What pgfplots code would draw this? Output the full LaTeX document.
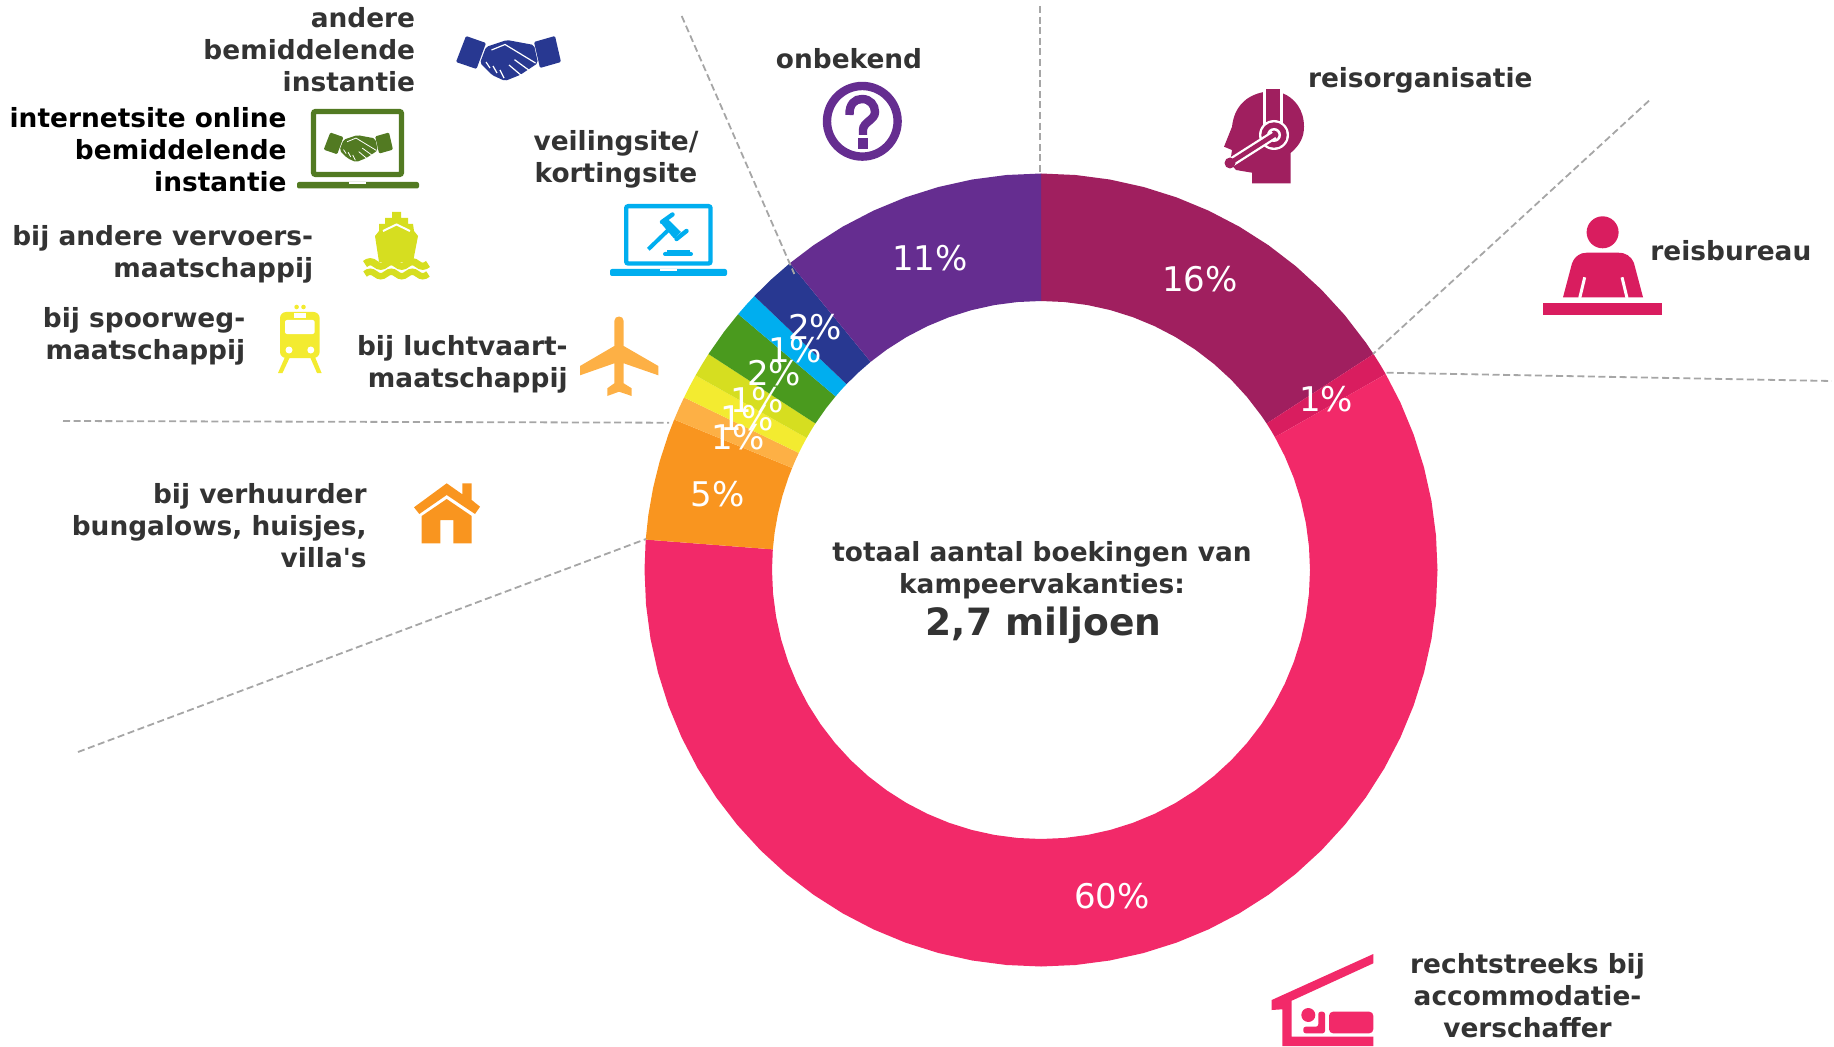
\documentclass[border=0pt]{standalone}
\usepackage{pgfplots}
\pgfplotsset{compat=1.18}
\usepackage{fontspec}
\setmainfont{DejaVu Sans}
\newfontfamily\plainfam{DejaVu Sans}
\definecolor{cplum}{HTML}{A01F5F}
\definecolor{ccrim}{HTML}{D91D5F}
\definecolor{cpink}{HTML}{F22969}
\definecolor{corange}{HTML}{F9951F}
\definecolor{clo}{HTML}{FDB045}
\definecolor{cyel}{HTML}{F3EB30}
\definecolor{clime}{HTML}{D6DE20}
\definecolor{cgreen}{HTML}{4A9A1E}
\definecolor{ccyan}{HTML}{00AEEF}
\definecolor{cdblue}{HTML}{283891}
\definecolor{cpurple}{HTML}{652D90}
\definecolor{cdgreen}{HTML}{527A22}
\definecolor{ctext}{HTML}{333333}
\definecolor{cdash}{HTML}{A6A6A6}
\newcommand\lab{\fontsize{13.2}{16}\selectfont\bfseries}
\newcommand\pct{\fontsize{17}{18}\selectfont\color{white}}
\newcommand\handshake[4]{%
 \begin{scope}[shift={(#1,#2)},scale=#3]
  \fill[#4,rounded corners=0.6pt] (-42,-22)--(-22,-15)--(-31.5,11)--(-52,4)--cycle;
  \fill[#4,rounded corners=0.6pt] (26,-16)--(47,-22)--(53,4)--(32,10)--cycle;
  \fill[#4,rounded corners=1pt] (-22,-11)--(-1,-18)--(26,-13)--(30,5)--(12,17)--(-3,23)--(-16,17)--(-28,5)--cycle;
  \draw[white,line width=#3*0.6pt] (-16.5,-8)--(-3,-13.5)--(27.5,5);
  \draw[white,line width=#3*0.6pt] (22,13)--(6.5,1.7) (14,18)--(1,7);
  \draw[white,line width=#3*0.6pt] (-22,4)--(-18,10) (-15,8)--(-11,15) (-8,12)--(-4,20);
 \end{scope}}
\newcommand\wave[1]{(365,#1) .. controls (368.5,#1-3) and (372,#1-3) .. (375.5,#1) .. controls (379,#1+3) and (382.5,#1+3) .. (386,#1) .. controls (389.5,#1-3) and (393,#1-3) .. (396.5,#1) .. controls (400,#1+3) and (403.5,#1+3) .. (407,#1) .. controls (410.5,#1-3) and (414,#1-3) .. (417.5,#1) .. controls (421,#1+3) and (424.5,#1+3) .. (428,#1)}
\begin{document}
\begin{tikzpicture}
\begin{axis}[name=main,scale only axis,width=917pt,height=523pt,hide axis,
  xmin=-1041,xmax=793,ymin=-476,ymax=570,clip=false]
% donut: (polar angle, radius) in reference pixels
\addplot[fill=cplum,draw=none,data cs=polar] coordinates {(90,396.5)(85,396.5)(80,396.5)(75,396.5)(70,396.5)(65,396.5)(60,396.5)(55,396.5)(50,396.5)(45,396.5)(40,396.5)(35,396.5)(33,396.5)(33,269)(35,269)(40,269)(45,269)(50,269)(55,269)(60,269)(65,269)(70,269)(75,269)(80,269)(85,269)(90,269)};
\addplot[fill=ccrim,draw=none,data cs=polar] coordinates {(33,396.5)(31,396.5)(29.6,396.5)(29.6,269)(31,269)(33,269)};
\addplot[fill=cpink,draw=none,data cs=polar] coordinates {(29.6,396.5)(25,396.5)(20,396.5)(15,396.5)(10,396.5)(5,396.5)(0,396.5)(-5,396.5)(-10,396.5)(-15,396.5)(-20,396.5)(-25,396.5)(-30,396.5)(-35,396.5)(-40,396.5)(-45,396.5)(-50,396.5)(-55,396.5)(-60,396.5)(-65,396.5)(-70,396.5)(-75,396.5)(-80,396.5)(-85,396.5)(-90,396.5)(-95,396.5)(-100,396.5)(-105,396.5)(-110,396.5)(-115,396.5)(-120,396.5)(-125,396.5)(-130,396.5)(-135,396.5)(-140,396.5)(-145,396.5)(-150,396.5)(-155,396.5)(-160,396.5)(-165,396.5)(-170,396.5)(-175,396.5)(-180,396.5)(-184.4,396.5)(-184.4,269)(-180,269)(-175,269)(-170,269)(-165,269)(-160,269)(-155,269)(-150,269)(-145,269)(-140,269)(-135,269)(-130,269)(-125,269)(-120,269)(-115,269)(-110,269)(-105,269)(-100,269)(-95,269)(-90,269)(-85,269)(-80,269)(-75,269)(-70,269)(-65,269)(-60,269)(-55,269)(-50,269)(-45,269)(-40,269)(-35,269)(-30,269)(-25,269)(-20,269)(-15,269)(-10,269)(-5,269)(0,269)(5,269)(10,269)(15,269)(20,269)(25,269)(29.6,269)};
\addplot[fill=corange,draw=none,data cs=polar] coordinates {(-184.4,396.5)(-188,396.5)(-192,396.5)(-196,396.5)(-200,396.5)(-202.3,396.5)(-202.3,269)(-200,269)(-196,269)(-192,269)(-188,269)(-184.4,269)};
\addplot[fill=clo,draw=none,data cs=polar] coordinates {(-202.3,396.5)(-204,396.5)(-205.8,396.5)(-205.8,269)(-204,269)(-202.3,269)};
\addplot[fill=cyel,draw=none,data cs=polar] coordinates {(-205.8,396.5)(-207.6,396.5)(-209.4,396.5)(-209.4,269)(-207.6,269)(-205.8,269)};
\addplot[fill=clime,draw=none,data cs=polar] coordinates {(-209.4,396.5)(-211.2,396.5)(-213,396.5)(-213,269)(-211.2,269)(-209.4,269)};
\addplot[fill=cgreen,draw=none,data cs=polar] coordinates {(-213,396.5)(-217,396.5)(-220.2,396.5)(-220.2,269)(-217,269)(-213,269)};
\addplot[fill=ccyan,draw=none,data cs=polar] coordinates {(-220.2,396.5)(-222,396.5)(-223.7,396.5)(-223.7,269)(-222,269)(-220.2,269)};
\addplot[fill=cdblue,draw=none,data cs=polar] coordinates {(-223.7,396.5)(-227,396.5)(-230.7,396.5)(-230.7,269)(-227,269)(-223.7,269)};
\addplot[fill=cpurple,draw=none,data cs=polar] coordinates {(-230.7,396.5)(-235,396.5)(-240,396.5)(-245,396.5)(-250,396.5)(-255,396.5)(-260,396.5)(-265,396.5)(-270,396.5)(-270,269)(-265,269)(-260,269)(-255,269)(-250,269)(-245,269)(-240,269)(-235,269)(-230.7,269)};
% dashed leader lines (offset from centre, reference pixels)
\addplot[cdash,line width=0.9pt,dash pattern=on 3.5pt off 1.8pt] coordinates {(-359.3,554)(-246.7,296)};
\addplot[cdash,line width=0.9pt,dash pattern=on 3.5pt off 1.8pt] coordinates {(-1,564)(-1,397)};
\addplot[cdash,line width=0.9pt,dash pattern=on 3.5pt off 1.8pt] coordinates {(608,469.3)(332,216)};
\addplot[cdash,line width=0.9pt,dash pattern=on 3.5pt off 1.8pt] coordinates {(345.5,197.3)(790.7,189)};
\addplot[cdash,line width=0.9pt,dash pattern=on 3.5pt off 1.8pt] coordinates {(-978,149)(-372,147.3)};
\addplot[cdash,line width=0.9pt,dash pattern=on 3.5pt off 1.8pt] coordinates {(-963,-182)(-395,31)};
\begin{scope}[shift={(axis cs:-1041,570)},x=0.5pt,y=-0.5pt]
 % percentages
 \node[inner sep=0] at (1200,279.5) {\pct 16\%};
 \node[inner sep=0] at (1326,399) {\pct 1\%};
 \node[inner sep=0] at (1112,896) {\pct 60\%};
 \node[inner sep=0] at (717.5,494) {\pct 5\%};
 \node[inner sep=0] at (738,437) {\pct 1\%};
 \node[inner sep=0] at (747,418) {\pct 1\%};
 \node[inner sep=0] at (757,400) {\pct 1\%};
 \node[inner sep=0] at (774,373) {\pct 2\%};
 \node[inner sep=0] at (795,350) {\pct 1\%};
 \node[inner sep=0] at (815,327) {\pct 2\%};
 \node[inner sep=0] at (930,258) {\pct 11\%};
 % labels
 \node[inner sep=0,font=\lab,anchor=east,align=right,text=ctext] at (415.5,50) {andere\\bemiddelende\\instantie};
 \node[inner sep=0,font=\lab,anchor=east,align=right,text=black] at (287,149.5) {internetsite online\\bemiddelende\\instantie};
 \node[inner sep=0,font=\lab,anchor=east,align=right,text=ctext] at (313.5,254.5) {bij andere vervoers-\\maatschappij};
 \node[inner sep=0,font=\lab,anchor=east,align=right,text=ctext] at (245.6,336) {bij spoorweg-\\maatschappij};
 \node[inner sep=0,font=\lab,anchor=east,align=right,text=ctext] at (568,364) {bij luchtvaart-\\maatschappij};
 \node[inner sep=0,font=\lab,anchor=east,align=right,text=ctext] at (367,525.5) {bij verhuurder\\bungalows, huisjes,\\villa{\plainfam\bfseries '}s};
 \node[inner sep=0,font=\lab,align=center,text=ctext] at (616,159) {veilingsite/\\kortingsite};
 \node[inner sep=0,font=\lab,text=ctext] at (849,58.5) {onbekend};
 \node[inner sep=0,font=\lab,anchor=west,text=ctext] at (1307.6,80.5) {reisorganisatie};
 \node[inner sep=0,font=\lab,anchor=west,text=ctext] at (1650,251) {reisbureau};
 \node[inner sep=0,font=\lab,align=center,text=ctext] at (1527.5,996) {rechtstreeks bij\\accommodatie-\\verschaffer};
 \node[inner sep=0,font=\lab,align=center,text=ctext] at (1042,570.5) {totaal aantal boekingen van\\kampeervakanties:};
 \node[inner sep=0,text=ctext] at (1043.5,625.5) {\fontsize{18.8}{22}\selectfont\bfseries 2,7 miljoen};
 % handshake icons
 \handshake{508}{58}{1}{cdblue}
 % green laptop
 \draw[cdgreen,line width=2.6pt,rounded corners=1pt] (313.5,111.5) rectangle (401.5,174.5);
 \fill[cdgreen,rounded corners=1pt] (297,182) rectangle (419,188.5);
 \fill[white] (349,182) rectangle (365.5,184);
 \handshake{358}{147}{0.66}{cdgreen}
 % ship
 \fill[clime] (392,212)--(401,212)--(401,218)--(408,218)--(408,224)--(413,224)--(414,231)--(418,236)--(413,262)--(379,262)--(375,236)--(379,231)--(379,224)--(385,224)--(385,218)--(392,218)--cycle;
 \draw[white,line width=1pt] (383,231)--(396.5,224.5)--(410,231);
 \draw[clime,line width=3.6pt] \wave{264};
 \draw[clime,line width=3.2pt] \wave{274};
 % train
 \fill[cyel,rounded corners=3pt] (280,312) rectangle (319.6,358);
 \fill[white,rounded corners=1pt] (285,320) rectangle (314.6,334);
 \fill[white] (294,313) rectangle (306,318);
 \fill[cyel] (296.6,307) circle (1.15pt) (303.5,307) circle (1.15pt);
 \fill[white] (289,350) circle (1.75pt) (310.8,350) circle (1.75pt);
 \fill[cyel] (285,357)--(290,357)--(282.5,373)--(278,373)--cycle (310,357)--(315,357)--(321.6,373)--(317,373)--cycle;
 % plane
 \fill[clo] (614.3,321) .. controls (614.3,315) and (623.7,315) .. (623.7,321) -- (623.7,346)--(658.3,366)--(658.3,375.3)--(623.7,363.3)--(623.7,383.3)--(631.7,388.3)--(631.7,396)--(619,391.7)--(607.3,396)--(607.3,388.3)--(614.3,383.3)--(614.3,363.3)--(580,375.3)--(580,366)--(614.3,346)--cycle;
 % house
 \fill[corange] (414,507.3)--(446.7,483.3)--(462.3,494.3)--(462.3,483.3)--(471.7,483.3)--(471.7,500)--(480,506.7)--(475,514)--(446.7,495)--(419.3,514)--cycle;
 \fill[corange] (421.7,516)--(446.7,499)--(471.7,516)--(471.7,543.3)--(453.3,543.3)--(453.3,520)--(440.3,520)--(440.3,543.3)--(421.7,543.3)--cycle;
 % cyan laptop with gavel
 \draw[ccyan,line width=2.2pt,rounded corners=1pt] (626.2,206.2) rectangle (710.5,263.5);
 \fill[ccyan,rounded corners=1pt] (610,269) rectangle (727,276);
 \fill[white] (660,269) rectangle (677,271.5);
 \fill[ccyan] (667.7,219)--(681,232)--(674,238.5)--(662,224.5)--cycle;
 \draw[ccyan,line width=2.2pt,line cap=round] (662,222)--(672.5,214.5) (676.5,239)--(686.5,231);
 \draw[ccyan,line width=2pt] (648.3,249.3)--(668.3,230);
 \fill[ccyan,rounded corners=1pt] (663,252) rectangle (693,256);
 \fill[ccyan] (667,250) rectangle (690,252.5);
 % question mark
 \draw[cpurple,line width=4.2pt] (862.3,121.3) circle (17.65pt);
 \draw[cpurple,line width=4.2pt] (849.5,115) .. controls (849,104) and (855,99) .. (862,99) .. controls (870,99) and (875,105) .. (875,112) .. controls (875,120) and (863,122) .. (863,130)--(863,135);
 \fill[cpurple] (858,138.5) rectangle (868,149);
 % headset agent
 \fill[cplum] (1265.5,91.7) .. controls (1245,95) and (1234,108) .. (1232,126.7) -- (1224,146.7)--(1232,150)--(1230,163)--(1236,170)--(1252,172.7)--(1252,183.3)--(1290.6,183.3)--(1290.6,153) .. controls (1300,145) and (1304,137) .. (1304,126.7) .. controls (1304,110) and (1295,98) .. (1282,93) -- cycle;
 \fill[white] (1263,88) rectangle (1282.5,125);
 \fill[cplum] (1265.5,89) rectangle (1280,127);
 \fill[white] (1274,135) circle (7.5pt);
 \fill[cplum] (1274,135) circle (6.35pt);
 \fill[white] (1274,135) circle (3.5pt);
 \fill[cplum] (1274,135) circle (2.25pt);
 \draw[white,line width=4.6pt] (1274,135)--(1230,163);
 \draw[cplum,line width=2.3pt,line cap=round] (1274,135)--(1230,163);
 \fill[cplum] (1230,163) circle (2.75pt);
 % travel agent
 \fill[ccrim] (1602.6,232.3) circle (8pt);
 \fill[ccrim] (1563,297.3)--(1572,263.3) .. controls (1575,256) and (1580,252.7) .. (1586.8,252.7) -- (1618,252.7) .. controls (1626,252.7) and (1631,256) .. (1634,263.3) -- (1643,297.3)--cycle;
 \draw[white,line width=1.5pt] (1584.7,277.3)--(1579.7,298) (1622,277.3)--(1627,298);
 \fill[ccrim] (1543,303) rectangle (1662,315);
 % bed
 \fill[cpink] (1271.7,1000)--(1373.3,954)--(1373.3,963.3)--(1291.7,1000.7)--(1291.7,1036.7)--(1373.3,1036.7)--(1373.3,1046)--(1282.3,1046)--(1282.3,1009.3)--(1271.7,1010)--cycle;
 \fill[cpink,rounded corners=2pt] (1329,1033.3)--(1329,1011.7)--(1373.3,1011.7)--(1373.3,1033.3)--cycle;
 \fill[cpink] (1308.3,1015) circle (3.5pt);
 \fill[cpink,rounded corners=1.2pt] (1303.3,1026.7)--(1318.3,1026.7)--(1318.3,1011.7)--(1325,1011.7)--(1325,1033.3)--(1303.3,1033.3)--cycle;
\end{scope}
\end{axis}
\pgfresetboundingbox
\path[use as bounding box] (main.south west) rectangle (main.north east);
\end{tikzpicture}
\end{document}
